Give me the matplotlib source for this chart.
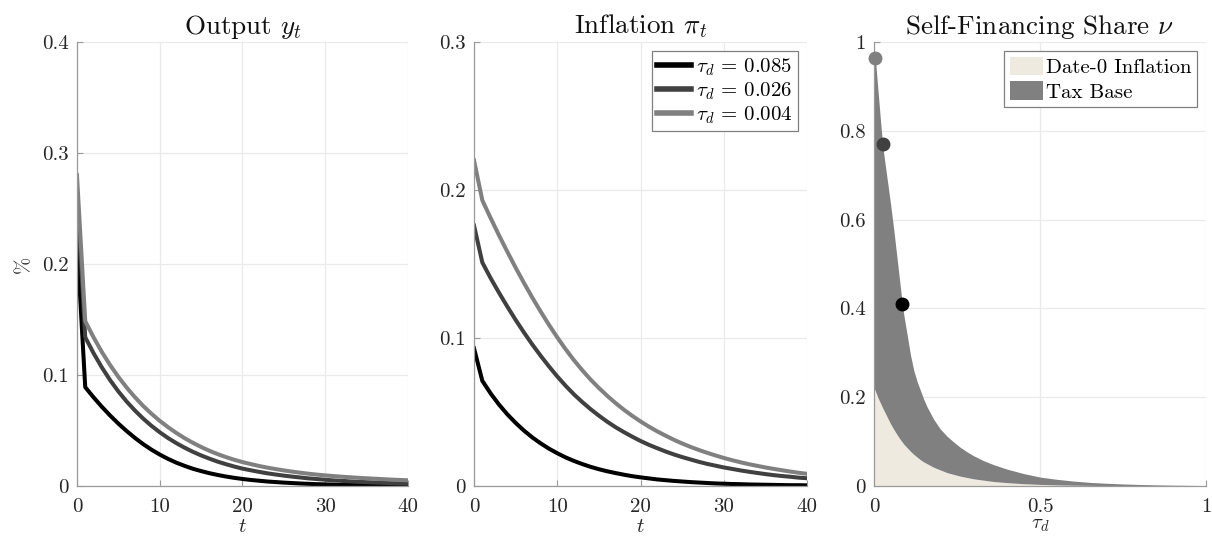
import numpy as np
import matplotlib
matplotlib.use("Agg")
import matplotlib.pyplot as plt
from matplotlib.patches import Patch

plt.rcParams['font.family'] = ['cmr10', 'DejaVu Serif']
plt.rcParams['mathtext.fontset'] = 'cm'
plt.rcParams['axes.unicode_minus'] = False

# ---------------- data ----------------
t = np.arange(41)
tau_labels = [r'$\tau_d\,=\,0.085$', r'$\tau_d\,=\,0.026$', r'$\tau_d\,=\,0.004$']

output_085 = [0.221, 0.0890, 0.0799, 0.0714, 0.0635, 0.0562, 0.0495, 0.0433, 0.0377, 0.0327, 0.0283,
              0.0244, 0.0210, 0.0181, 0.0155, 0.0134, 0.0115, 0.0099, 0.0085, 0.0073, 0.0063,
              0.0054, 0.0047, 0.0040, 0.0035, 0.0030, 0.0026, 0.0022, 0.0019, 0.0016, 0.0014,
              0.0012, 0.0010, 0.0009, 0.0008, 0.0007, 0.0006, 0.0005, 0.0004, 0.0004, 0.0003]
output_026 = [0.265, 0.1340, 0.1197, 0.1069, 0.0954, 0.0852, 0.0761, 0.0680, 0.0607, 0.0542, 0.0484,
              0.0432, 0.0386, 0.0345, 0.0308, 0.0275, 0.0246, 0.0219, 0.0196, 0.0175, 0.0156,
              0.0141, 0.0127, 0.0114, 0.0103, 0.0093, 0.0084, 0.0076, 0.0068, 0.0062, 0.0056,
              0.0050, 0.0046, 0.0041, 0.0037, 0.0034, 0.0031, 0.0028, 0.0025, 0.0023, 0.0021]
output_004 = [0.280, 0.1485, 0.1340, 0.1208, 0.1090, 0.0983, 0.0887, 0.0800, 0.0721, 0.0651, 0.0587,
              0.0530, 0.0478, 0.0431, 0.0389, 0.0351, 0.0317, 0.0287, 0.0260, 0.0236, 0.0215,
              0.0197, 0.0180, 0.0165, 0.0152, 0.0140, 0.0129, 0.0119, 0.0110, 0.0102, 0.0095,
              0.0089, 0.0083, 0.0078, 0.0073, 0.0069, 0.0065, 0.0061, 0.0057, 0.0054, 0.0051]

infl_085 = [0.093, 0.0710, 0.0625, 0.0550, 0.0484, 0.0426, 0.0374, 0.0328, 0.0288, 0.0252, 0.0221,
            0.0193, 0.0169, 0.0148, 0.0129, 0.0113, 0.0099, 0.0087, 0.0076, 0.0066, 0.0058,
            0.0051, 0.0044, 0.0039, 0.0034, 0.0030, 0.0026, 0.0023, 0.0020, 0.0017, 0.0015,
            0.0013, 0.0012, 0.0010, 0.0009, 0.0008, 0.0007, 0.0006, 0.0005, 0.0005, 0.0004]
infl_026 = [0.176, 0.1510, 0.1404, 0.1306, 0.1212, 0.1122, 0.1037, 0.0956, 0.0880, 0.0808, 0.0740,
            0.0677, 0.0619, 0.0567, 0.0519, 0.0475, 0.0434, 0.0397, 0.0364, 0.0333, 0.0304,
            0.0278, 0.0255, 0.0233, 0.0213, 0.0195, 0.0179, 0.0163, 0.0149, 0.0137, 0.0125,
            0.0115, 0.0105, 0.0096, 0.0088, 0.0080, 0.0073, 0.0067, 0.0062, 0.0056, 0.0052]
infl_004 = [0.220, 0.1930, 0.1810, 0.1694, 0.1583, 0.1475, 0.1372, 0.1273, 0.1179, 0.1089, 0.1004,
            0.0924, 0.0850, 0.0782, 0.0719, 0.0662, 0.0609, 0.0560, 0.0515, 0.0474, 0.0436,
            0.0401, 0.0369, 0.0340, 0.0312, 0.0287, 0.0264, 0.0243, 0.0224, 0.0206, 0.0189,
            0.0174, 0.0160, 0.0147, 0.0136, 0.0125, 0.0115, 0.0106, 0.0097, 0.0089, 0.0082]

tau_grid = [0, 0.004, 0.01, 0.015, 0.02, 0.026, 0.03, 0.04, 0.05, 0.06, 0.07, 0.08, 0.085, 0.09,
            0.1, 0.11, 0.12, 0.13, 0.14, 0.15, 0.16, 0.18, 0.2, 0.22, 0.24, 0.26, 0.28, 0.3,
            0.33, 0.36, 0.4, 0.45, 0.5, 0.55, 0.6, 0.65, 0.7, 0.75, 0.8, 0.85, 0.9, 0.95, 1.0]
nu_total = [0.975, 0.965, 0.91, 0.865, 0.82, 0.77, 0.745, 0.69, 0.635, 0.575, 0.51, 0.445, 0.41,
            0.385, 0.34, 0.295, 0.26, 0.235, 0.215, 0.195, 0.178, 0.150, 0.128, 0.112, 0.099,
            0.087, 0.077, 0.068, 0.057, 0.048, 0.038, 0.028, 0.020, 0.015, 0.011, 0.008, 0.006,
            0.0045, 0.0033, 0.0024, 0.0017, 0.0012, 0.0008]
nu_date0 = [0.222, 0.214, 0.203, 0.194, 0.186, 0.176, 0.170, 0.155, 0.140, 0.127, 0.115, 0.104,
            0.099, 0.094, 0.086, 0.078, 0.071, 0.065, 0.059, 0.054, 0.050, 0.042, 0.036, 0.030,
            0.026, 0.022, 0.019, 0.016, 0.013, 0.010, 0.0075, 0.005, 0.0035, 0.0024, 0.0017,
            0.0012, 0.0008, 0.0006, 0.0004, 0.0003, 0.0002, 0.0001, 0.0001]

point_tau = [0.085, 0.026, 0.004]
point_nu = [0.41, 0.77, 0.965]

yt1 = [0, 0.1, 0.2, 0.3, 0.4]
yl1 = ['0', '0.1', '0.2', '0.3', '0.4']
yt2 = [0, 0.1, 0.2, 0.3]
yl2 = ['0', '0.1', '0.2', '0.3']
yt3 = [0, 0.2, 0.4, 0.6, 0.8, 1]
yl3 = ['0', '0.2', '0.4', '0.6', '0.8', '1']
xt12 = [0, 10, 20, 30, 40]
xl12 = ['0', '10', '20', '30', '40']
xt3 = [0, 0.5, 1]
xl3 = ['0', '0.5', '1']

# ---------------- style ----------------
colors = ['#000000', '#404040', '#808080']
LW = 2.9
TICK_FS = 15
TITLE_FS = 19.5
AX_COLOR = '#9a9a9a'
TXT_COLOR = '#262626'
GRID_COLOR = '#eaeaea'

fig = plt.figure(figsize=(12.12, 5.46), dpi=100)
bottom, height = 0.110, 0.813
ax1 = fig.add_axes([0.0635, bottom, 0.2731, height])
ax2 = fig.add_axes([0.3911, bottom, 0.2748, height])
ax3 = fig.add_axes([0.7211, bottom, 0.2740, height])


def style(ax, xt, xl, yt, yl, xlim, ylim):
    ax.set_xlim(*xlim)
    ax.set_ylim(*ylim)
    ax.set_xticks(xt)
    ax.set_xticklabels(xl)
    ax.set_yticks(yt)
    ax.set_yticklabels(yl)
    for s in ['top', 'right']:
        ax.spines[s].set_visible(False)
    for s in ['left', 'bottom']:
        ax.spines[s].set_color(AX_COLOR)
        ax.spines[s].set_linewidth(0.9)
    ax.tick_params(direction='in', length=4, width=0.8, color=AX_COLOR,
                   labelsize=TICK_FS, labelcolor=TXT_COLOR)
    ax.tick_params(axis='x', pad=9)
    ax.tick_params(axis='y', pad=6)
    ax.grid(True, color=GRID_COLOR, linewidth=0.9)
    ax.set_axisbelow(True)


# Panel 1: Output
for y, c in zip([output_085, output_026, output_004], colors):
    ax1.plot(t, y, color=c, lw=LW)
style(ax1, xt12, xl12, yt1, yl1, (0, 40), (0, 0.4))
ax1.set_title(r'Output $y_t$', fontsize=TITLE_FS, color='#111111', pad=6)
ax1.set_xlabel(r'$t$', fontsize=TICK_FS, color=TXT_COLOR, labelpad=1)
ax1.set_ylabel('%', fontsize=TICK_FS, color=TXT_COLOR, labelpad=6)

# Panel 2: Inflation
for y, c, lab in zip([infl_085, infl_026, infl_004], colors, tau_labels):
    ax2.plot(t, y, color=c, lw=LW, label=lab)
style(ax2, xt12, xl12, yt2, yl2, (0, 40), (0, 0.3))
ax2.set_title(r'Inflation $\pi_t$', fontsize=TITLE_FS, color='#111111', pad=6)
ax2.set_xlabel(r'$t$', fontsize=TICK_FS, color=TXT_COLOR, labelpad=1)
leg2 = ax2.legend(loc='upper right', fontsize=TICK_FS, frameon=True, fancybox=False,
                  edgecolor='#808080', framealpha=1, handlelength=1.6, handletextpad=0.25,
                  borderpad=0.25, labelspacing=0.12, borderaxespad=0.45)
leg2.get_frame().set_linewidth(0.9)
for h in leg2.get_lines():
    h.set_linewidth(4.0)

# Panel 3: Self-financing share
ax3.fill_between(tau_grid, 0, nu_date0, color='#eeeae0', lw=0)
ax3.fill_between(tau_grid, nu_date0, nu_total, color='#808080', lw=0)
for x, y, c in zip(point_tau, point_nu, colors):
    ax3.plot([x], [y], 'o', color=c, markersize=9, zorder=5, clip_on=False)
style(ax3, xt3, xl3, yt3, yl3, (0, 1), (0, 1))
ax3.set_title(r'Self-Financing Share $\nu$', fontsize=TITLE_FS, color='#111111', pad=6)
ax3.set_xlabel(r'$\tau_d$', fontsize=TICK_FS, color=TXT_COLOR, labelpad=0)
handles = [Patch(facecolor='#eeeae0', edgecolor='none'), Patch(facecolor='#808080', edgecolor='none')]
leg3 = ax3.legend(handles, ['Date-0 Inflation', 'Tax Base'], loc='upper right', fontsize=TICK_FS,
                  frameon=True, fancybox=False, edgecolor='#808080', framealpha=1,
                  handlelength=1.6, handleheight=1.0, handletextpad=0.15,
                  borderpad=0.25, labelspacing=0.2, borderaxespad=0.45)
leg3.get_frame().set_linewidth(0.9)

fig.savefig('out.png', dpi=100)
